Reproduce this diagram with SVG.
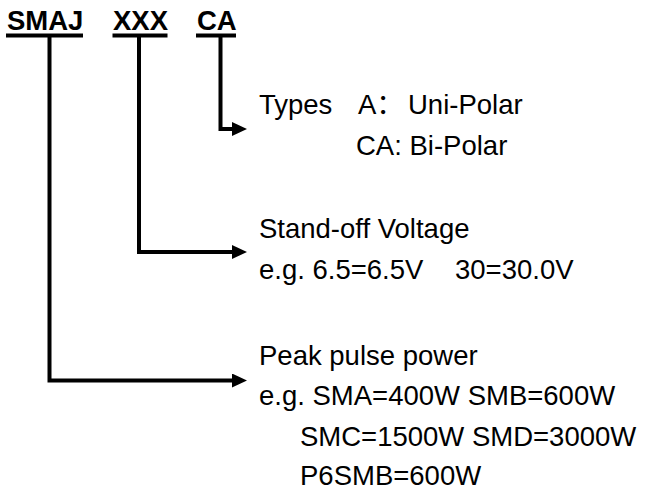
<svg xmlns="http://www.w3.org/2000/svg" width="646" height="490" viewBox="0 0 646 490">
  <style>
    .t { font-family: "Liberation Sans", Arial, "Noto Sans CJK SC", sans-serif; font-size: 27.5px; fill: #000; }
    .b { font-weight: bold; }
    .ul { fill: #000; }
    .c { fill: none; stroke: #000; stroke-width: 4; stroke-linejoin: miter; marker-end: url(#ah); }
  </style>
  <defs>
    <marker id="ah" markerUnits="userSpaceOnUse" markerWidth="16" markerHeight="14" refX="1" refY="7" orient="auto">
      <path d="M0,0 L15,7 L0,14 z" fill="#000"/>
    </marker>
  </defs>
  <rect width="646" height="490" fill="#fff"/>

  <g id="code-smaj">
    <text class="t b" x="7" y="30">SMAJ</text>
    <rect class="ul" x="6" y="33.5" width="77" height="4"/>
  </g>
  <g id="code-xxx">
    <text class="t b" x="113" y="30">XXX</text>
    <rect class="ul" x="112.5" y="33.5" width="55" height="4"/>
  </g>
  <g id="code-ca">
    <text class="t b" x="197" y="30">CA</text>
    <rect class="ul" x="196" y="33.5" width="40" height="4"/>
  </g>

  <g id="connectors">
    <polyline class="c" points="220.5,37 220.5,129 233,129"/>
    <polyline class="c" points="139,37 139,252 233,252"/>
    <polyline class="c" points="49.5,37 49.5,380.5 233,380.5"/>
  </g>

  <g id="types">
    <text class="t" x="259" y="114">Types<tspan x="358">A：</tspan><tspan x="408">Uni-Polar</tspan></text>
    <text class="t" x="356" y="154.5">CA: Bi-Polar</text>
  </g>
  <g id="voltage">
    <text class="t" x="259" y="238">Stand-off Voltage</text>
    <text class="t" x="259" y="279">e.g. 6.5=6.5V<tspan x="455">30=30.0V</tspan></text>
  </g>
  <g id="power">
    <text class="t" x="259" y="364.5">Peak pulse power</text>
    <text class="t" x="259" y="405">e.g. SMA=400W SMB=600W</text>
    <text class="t" x="300" y="445.5">SMC=1500W SMD=3000W</text>
    <text class="t" x="300" y="484.5">P6SMB=600W</text>
  </g>
</svg>
